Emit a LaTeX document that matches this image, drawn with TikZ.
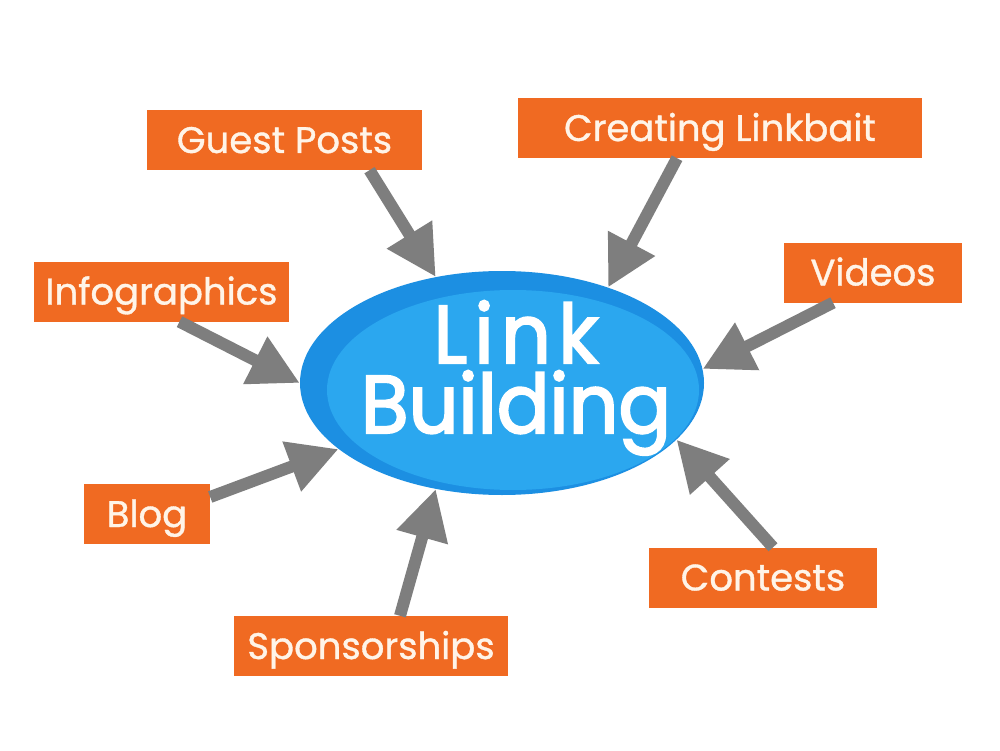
\documentclass[tikz,border=0pt]{standalone}
\usepackage{fontspec}
\setmainfont{Poppins}
\newfontfamily\boxfont{Poppins}[FakeBold=1]
\newfontfamily\bigfont{Poppins}[FakeBold=2.5,FakeStretch=0.95]
\usetikzlibrary{shapes.geometric,arrows.meta}
\definecolor{org}{HTML}{F06A22}
\definecolor{cream}{HTML}{FFF4E8}
\definecolor{arrgray}{HTML}{7E7E7E}
\definecolor{outerblue}{HTML}{1C8FE2}
\definecolor{innerblue}{HTML}{2BA7EF}
\begin{document}
\begin{tikzpicture}[x=1pt,y=-1pt,
  box/.style={fill=org, text=cream, minimum height=60pt, inner sep=0pt,
    text height=30pt, text depth=4pt,
    font=\boxfont\fontsize{37}{40}\selectfont},
  big/.style={text=white, anchor=base, inner sep=0pt, align=center,
    font=\bigfont\fontsize{82}{70}\selectfont},
  arr/.style={draw=arrgray, line width=12pt, -{Triangle[length=50pt,width=50pt]}}]
\useasboundingbox (0,0) rectangle (1000,751);
\fill[white] (0,0) rectangle (1000,751);
% centre
\node[ellipse, fill=outerblue, minimum width=404pt, minimum height=224pt, inner sep=0pt] (lb) at (502,383) {};
\node[ellipse, fill=innerblue, minimum width=372pt, minimum height=200pt, inner sep=0pt] (lbin) at (513,390) {};
\node[big] (lbtext) at (516,433) {{\addfontfeatures{LetterSpace=9}Link\hspace{-2pt}}\\Building};
% boxes
\node[box, minimum width=275pt] (gp) at (284.5,140) {Guest Posts};
\node[box, minimum width=404pt] (cl) at (720,128) {Creating Linkbait};
\node[box, minimum width=255pt] (ig) at (161.5,291.5) {Infographics};
\node[box, minimum width=178pt] (vi) at (873,272.5) {Videos};
\node[box, minimum width=126pt] (bl) at (147,514) {Blog};
\node[box, minimum width=228pt] (co) at (763,577.5) {Contests};
\node[box, minimum width=274pt] (sp) at (371,646) {Sponsorships};
% arrows
\draw[arr] ([xshift=85pt]gp.south) -- (lb.122);
\draw[arr] ([xshift=-43pt]cl.south) -- (lb.42);
\draw[arr] ([xshift=18pt]ig.south) -- (lb.180);
\draw[arr] ([xshift=-40pt]vi.south) -- (lb.4);
\draw[arr] ([yshift=17pt]bl.east) -- (lb.202);
\draw[arr] ([xshift=29pt]sp.north) -- (lb.238);
\draw[arr] ([xshift=10pt]co.north) -- (lb.342);
\end{tikzpicture}
\end{document}
